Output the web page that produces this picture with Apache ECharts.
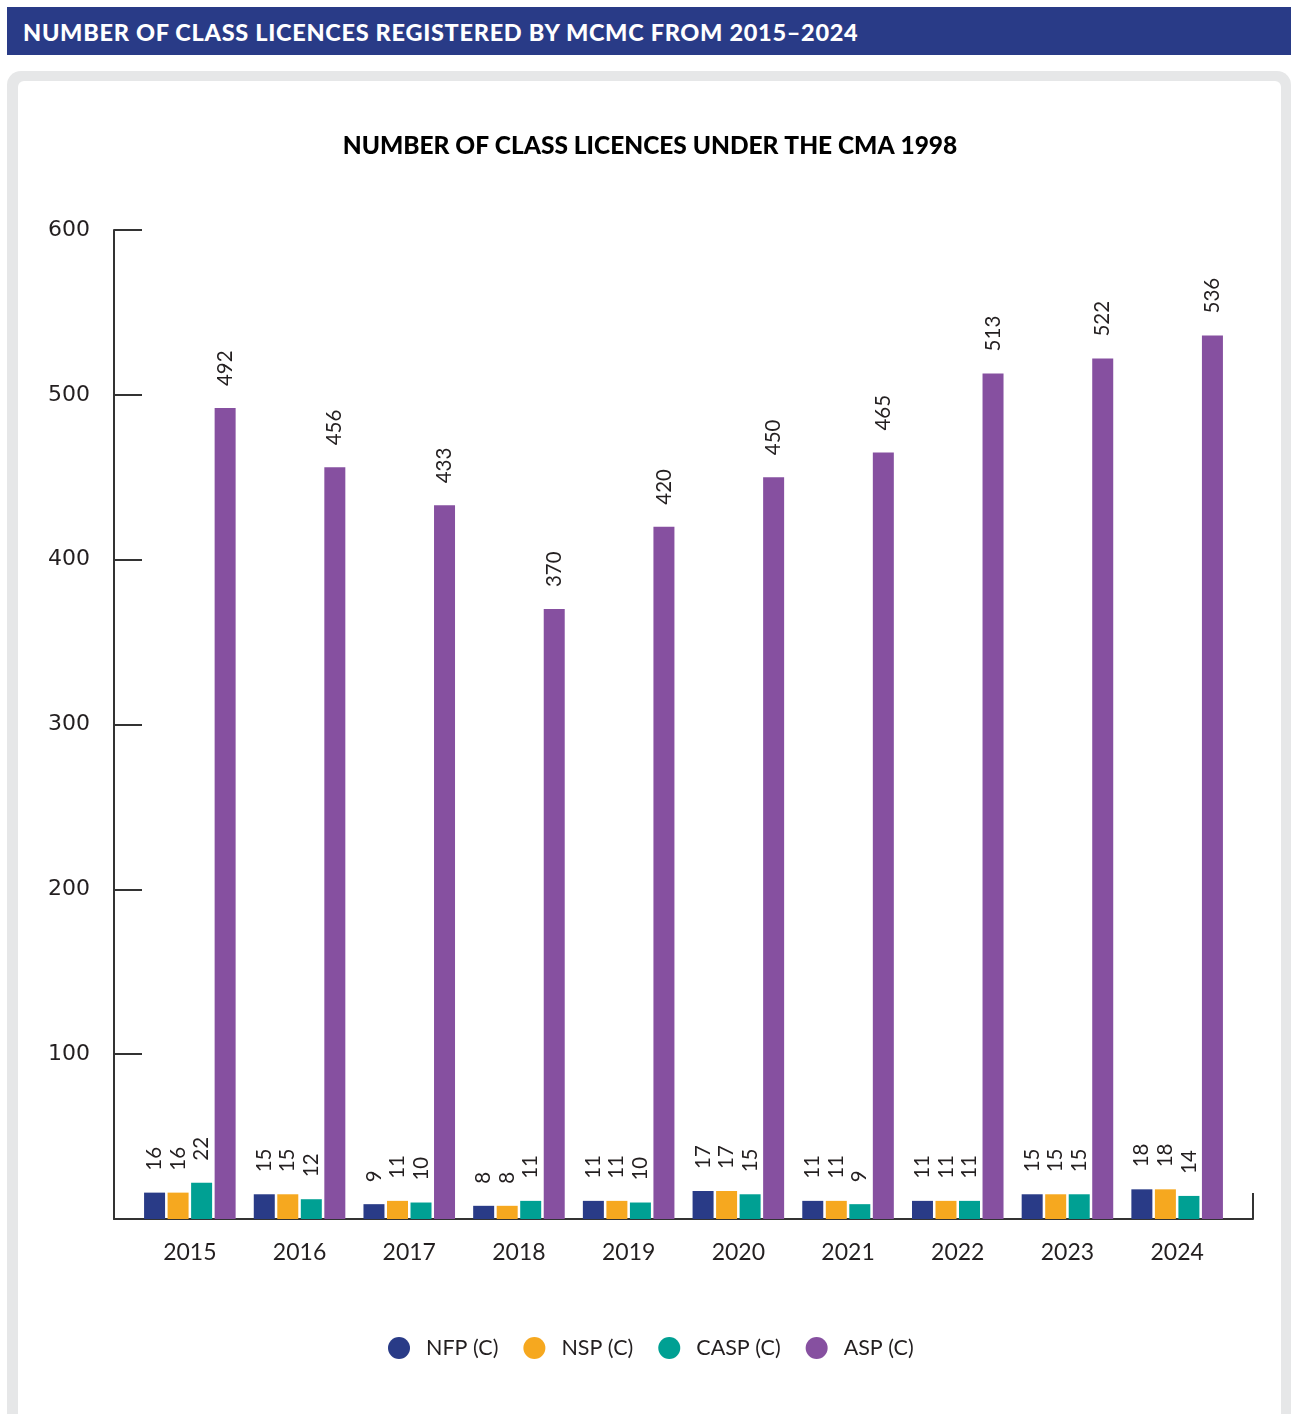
<!DOCTYPE html>
<html>
<head>
<meta charset="utf-8">
<title>Number of class licences registered by MCMC</title>
<script src="https://cdn.jsdelivr.net/npm/echarts@6/dist/echarts.min.js"></script>
<style>
  html, body { margin: 0; padding: 0; background: #ffffff; }
  body { width: 1291px; height: 1414px; position: relative; overflow: hidden; font-family: Lato, "Noto Sans", sans-serif; }
  .header {
    position: absolute; left: 7px; top: 7px; width: 1284px; height: 48px;
    background: #293b87; color: #ffffff; font-weight: 900; font-size: 23.5px;
    line-height: 51px; padding-left: 16px; box-sizing: border-box; letter-spacing: 0.7px;
  }
  .card {
    position: absolute; left: 7px; top: 71px; width: 1284px; height: 1360px;
    background: #e6e7e8; border-radius: 14px;
  }
  .card-inner {
    position: absolute; left: 11px; top: 10px; right: 10px; bottom: 10px;
    background: #ffffff; border-radius: 6px;
  }
  #chart { position: absolute; left: 0; top: 0; width: 1291px; height: 1414px; }
</style>
</head>
<body>
<div class="header">NUMBER OF CLASS LICENCES REGISTERED BY MCMC FROM 2015–2024</div>
<div class="card"><div class="card-inner"></div></div>
<div id="chart"></div>
<script>
// Licence counts per year, by class licence type
const years = ['2015', '2016', '2017', '2018', '2019', '2020', '2021', '2022', '2023', '2024'];
const nfp  = [16, 15, 9, 8, 11, 17, 11, 11, 15, 18];
const nsp  = [16, 15, 11, 8, 11, 17, 11, 11, 15, 18];
const casp = [22, 12, 10, 11, 10, 15, 9, 11, 15, 14];
const asp  = [492, 456, 433, 370, 420, 450, 465, 513, 522, 536];
const yTicks = [0, 100, 200, 300, 400, 500, 600];

const seriesNames = ['NFP (C)', 'NSP (C)', 'CASP (C)', 'ASP (C)'];
const seriesData = [nfp, nsp, casp, asp];
const colors = ['#293b87', '#f6a81f', '#00a093', '#8650a0'];

const chart = echarts.init(document.getElementById('chart'), null, { renderer: 'canvas' });

const labelStyle = {
  show: true,
  position: 'top',
  rotate: 90,
  align: 'left',
  verticalAlign: 'middle',
  distance: 22,
  fontFamily: 'Lato',
  fontSize: 20.5,
  color: '#231f20'
};

const option = {
  animation: false,
  color: colors,
  title: {
    text: 'NUMBER OF CLASS LICENCES UNDER THE CMA 1998',
    left: 645,
    top: 129,
    textAlign: 'center',
    textStyle: { fontFamily: 'Lato', fontWeight: 900, fontSize: 24.5, color: '#000000' }
  },
  legend: {
    data: seriesNames,
    left: 388,
    top: 1337,
    padding: 0,
    icon: 'circle',
    itemWidth: 22,
    itemHeight: 22,
    itemGap: 25,
    textStyle: { fontFamily: 'Lato', fontSize: 21.5, color: '#231f20', padding: [0, 0, 0, 11] }
  },
  grid: [
    // bars
    { left: 135, right: 59, top: 230, bottom: 195 },
    // frame: axis lines spanning the full plot area
    { left: 114, right: 38, top: 230, bottom: 195 }
  ],
  xAxis: [
    {
      type: 'category', gridIndex: 0, data: years,
      axisLine: { show: false }, axisTick: { show: false },
      axisLabel: { margin: 22, fontFamily: 'Lato', fontSize: 23, color: '#231f20' }
    },
    {
      type: 'value', gridIndex: 1, min: 0, max: 1, interval: 1,
      axisLine: { show: true, lineStyle: { color: '#333333', width: 2 } },
      axisTick: { show: true, inside: true, length: 26, lineStyle: { color: '#333333', width: 2 } },
      axisLabel: { show: false }, splitLine: { show: false }
    }
  ],
  yAxis: [
    {
      type: 'value', gridIndex: 0, min: yTicks[0], max: yTicks[yTicks.length - 1],
      interval: yTicks[1] - yTicks[0], show: false
    },
    {
      type: 'value', gridIndex: 1, min: yTicks[0], max: yTicks[yTicks.length - 1],
      interval: yTicks[1] - yTicks[0],
      axisLine: { show: true, lineStyle: { color: '#333333', width: 2 } },
      axisTick: { show: true, inside: true, length: 28, lineStyle: { color: '#333333', width: 2 } },
      splitLine: { show: false },
      axisLabel: {
        margin: 24, fontFamily: 'DejaVu Sans', fontSize: 22, color: '#231f20',
        formatter: v => (v === 0 ? '' : String(v))
      }
    }
  ],
  series: seriesNames.map((name, i) => ({
    name: name,
    type: 'bar',
    xAxisIndex: 0,
    yAxisIndex: 0,
    data: seriesData[i],
    barWidth: 21,
    barGap: '12%',
    itemStyle: { color: colors[i] },
    label: labelStyle
  }))
};

chart.setOption(option);
</script>
</body>
</html>
